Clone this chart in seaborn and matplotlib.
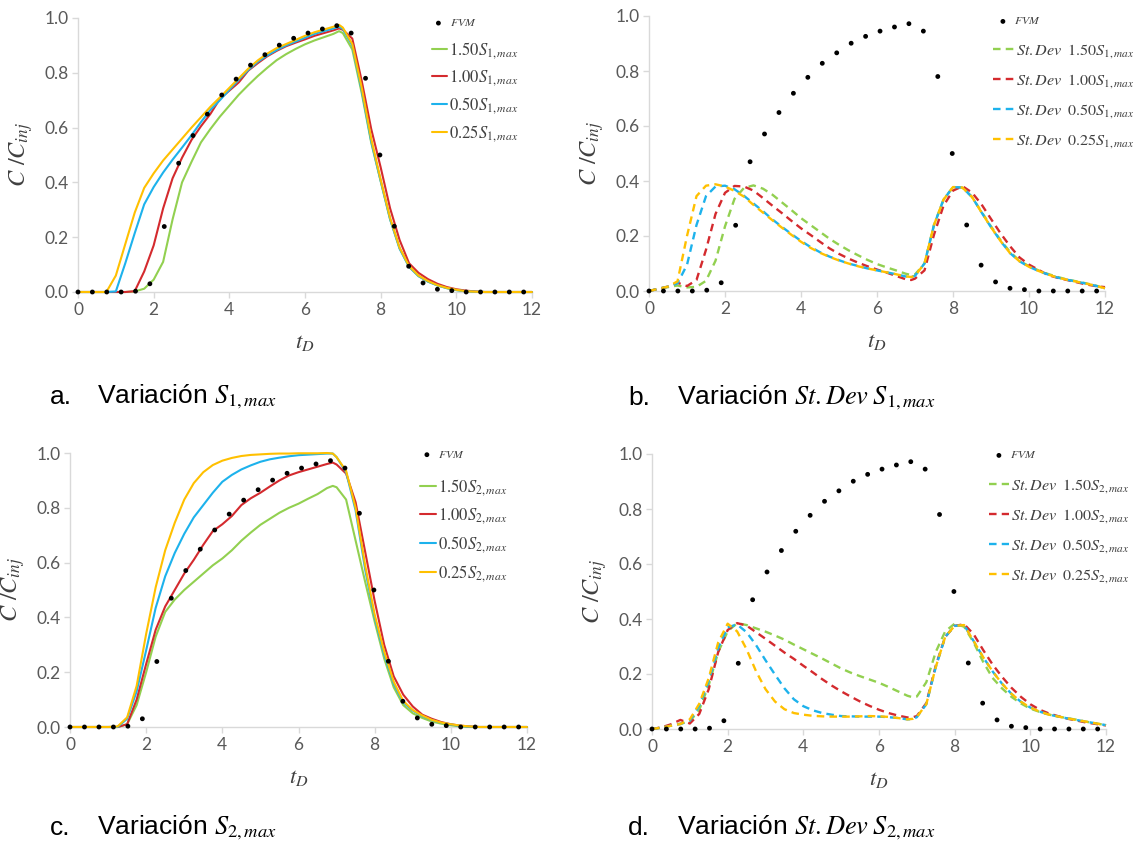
import numpy as np
import pandas as pd
import matplotlib
matplotlib.use("Agg")
import matplotlib.pyplot as plt
import seaborn as sns

# ---------------------------------------------------------------------------
# Data: dimensionless time grid and breakthrough curves C/C_inj
# ---------------------------------------------------------------------------
T = [0.0, 0.25, 0.5, 0.75, 1.0, 1.25, 1.5, 1.75, 2.0, 2.25, 2.5, 2.75, 3.0,
     3.25, 3.5, 3.75, 4.0, 4.25, 4.5, 4.75, 5.0, 5.25, 5.5, 5.75, 6.0, 6.25,
     6.5, 6.75, 6.9, 7.0, 7.25, 7.5, 7.75, 8.0, 8.25, 8.5, 8.75, 9.0, 9.25,
     9.5, 9.75, 10.0, 10.25, 10.5, 10.75, 11.0, 11.25, 11.5, 11.75, 12.0]

FVM_T = [0.0, 0.38, 0.76, 1.14, 1.52, 1.9, 2.28, 2.66, 3.04, 3.42, 3.8, 4.18,
         4.56, 4.94, 5.32, 5.7, 6.08, 6.46, 6.84, 7.22, 7.6, 7.98, 8.36, 8.74,
         9.12, 9.5, 9.88, 10.26, 10.64, 11.02, 11.4, 11.78]
FVM_C = [0.0, 0.0, 0.0, 0.0, 0.003, 0.03, 0.239, 0.47, 0.571, 0.649, 0.719,
         0.777, 0.828, 0.866, 0.901, 0.926, 0.945, 0.96, 0.972, 0.945, 0.78,
         0.5, 0.24, 0.094, 0.033, 0.01, 0.005, 0.0, 0.0, 0.0, 0.0, 0.0]

LEVELS = ["1.50", "1.00", "0.50", "0.25"]

# (a) variation of S1,max
A_150 = [0, 0, 0, 0, 0, 0, 0.002, 0.012, 0.045, 0.11, 0.265, 0.40, 0.475,
         0.546, 0.595, 0.64, 0.68, 0.72, 0.755, 0.788, 0.818, 0.846, 0.868,
         0.887, 0.904, 0.918, 0.93, 0.942, 0.952, 0.945, 0.885, 0.725, 0.545,
         0.405, 0.265, 0.16, 0.092, 0.058, 0.038, 0.024, 0.014, 0.007, 0.003,
         0.001, 0, 0, 0, 0, 0, 0]
A_100 = [0, 0, 0, 0, 0, 0, 0.003, 0.075, 0.17, 0.305, 0.415, 0.49, 0.555,
         0.605, 0.65, 0.705, 0.735, 0.765, 0.808, 0.835, 0.86, 0.88, 0.897,
         0.91, 0.922, 0.935, 0.945, 0.955, 0.962, 0.957, 0.925, 0.77, 0.595,
         0.455, 0.305, 0.19, 0.105, 0.07, 0.047, 0.03, 0.018, 0.01, 0.005,
         0.002, 0, 0, 0, 0, 0, 0]
A_050 = [0, 0, 0, 0, 0.002, 0.105, 0.215, 0.32, 0.383, 0.436, 0.483, 0.527,
         0.572, 0.62, 0.665, 0.70, 0.738, 0.775, 0.81, 0.84, 0.863, 0.883,
         0.90, 0.914, 0.928, 0.942, 0.952, 0.962, 0.968, 0.96, 0.90, 0.735,
         0.55, 0.405, 0.265, 0.158, 0.092, 0.058, 0.038, 0.024, 0.014, 0.007,
         0.003, 0.001, 0, 0, 0, 0, 0, 0]
A_025 = [0, 0, 0, 0, 0.06, 0.175, 0.29, 0.38, 0.433, 0.48, 0.52, 0.56, 0.60,
         0.638, 0.676, 0.71, 0.745, 0.78, 0.815, 0.845, 0.87, 0.89, 0.905,
         0.92, 0.935, 0.948, 0.958, 0.968, 0.975, 0.965, 0.905, 0.745, 0.56,
         0.41, 0.27, 0.162, 0.095, 0.06, 0.04, 0.025, 0.015, 0.008, 0.003,
         0.001, 0, 0, 0, 0, 0, 0]

# (b) variation of the standard deviation of S1,max
B_150 = [0, 0.008, 0.014, 0.02, 0.013, 0.015, 0.037, 0.11, 0.235, 0.335,
         0.375, 0.384, 0.372, 0.35, 0.322, 0.294, 0.265, 0.24, 0.215, 0.19,
         0.168, 0.148, 0.13, 0.113, 0.098, 0.086, 0.075, 0.063, 0.058, 0.06,
         0.10, 0.24, 0.332, 0.378, 0.376, 0.342, 0.288, 0.235, 0.185, 0.142,
         0.11, 0.09, 0.075, 0.062, 0.051, 0.042, 0.035, 0.028, 0.02, 0.01]
B_100 = [0, 0.008, 0.016, 0.03, 0.018, 0.04, 0.15, 0.28, 0.357, 0.382, 0.38,
         0.365, 0.338, 0.31, 0.283, 0.255, 0.228, 0.204, 0.179, 0.155, 0.135,
         0.118, 0.103, 0.09, 0.078, 0.067, 0.055, 0.043, 0.04, 0.045, 0.075,
         0.205, 0.31, 0.365, 0.381, 0.358, 0.315, 0.262, 0.21, 0.163, 0.122,
         0.096, 0.077, 0.058, 0.048, 0.04, 0.032, 0.024, 0.018, 0.014]
B_050 = [0, 0.008, 0.016, 0.028, 0.095, 0.24, 0.345, 0.38, 0.383, 0.37,
         0.346, 0.318, 0.29, 0.26, 0.233, 0.207, 0.182, 0.16, 0.141, 0.125,
         0.112, 0.10, 0.091, 0.082, 0.075, 0.068, 0.061, 0.053, 0.051, 0.055,
         0.10, 0.24, 0.332, 0.378, 0.376, 0.342, 0.286, 0.232, 0.182, 0.138,
         0.108, 0.088, 0.073, 0.06, 0.049, 0.041, 0.034, 0.027, 0.019, 0.01]
B_025 = [0, 0.008, 0.016, 0.035, 0.20, 0.345, 0.383, 0.388, 0.38, 0.364,
         0.343, 0.313, 0.285, 0.257, 0.23, 0.204, 0.179, 0.157, 0.139, 0.124,
         0.111, 0.10, 0.09, 0.082, 0.075, 0.068, 0.061, 0.053, 0.051, 0.055,
         0.10, 0.24, 0.332, 0.378, 0.376, 0.342, 0.286, 0.232, 0.182, 0.138,
         0.108, 0.088, 0.073, 0.06, 0.049, 0.041, 0.034, 0.027, 0.019, 0.01]

# (c) variation of S2,max
C_150 = [0, 0, 0, 0, 0, 0, 0.01, 0.08, 0.20, 0.33, 0.42, 0.465, 0.50, 0.53,
         0.56, 0.59, 0.615, 0.645, 0.68, 0.71, 0.738, 0.76, 0.782, 0.80,
         0.815, 0.833, 0.85, 0.872, 0.88, 0.875, 0.83, 0.68, 0.53, 0.385,
         0.25, 0.145, 0.08, 0.05, 0.033, 0.02, 0.012, 0.006, 0.002, 0, 0, 0,
         0, 0, 0, 0]
C_100 = [0, 0, 0, 0, 0, 0, 0.01, 0.10, 0.23, 0.355, 0.44, 0.50, 0.56, 0.61,
         0.665, 0.715, 0.74, 0.77, 0.81, 0.835, 0.855, 0.878, 0.90, 0.918,
         0.93, 0.94, 0.95, 0.96, 0.965, 0.958, 0.925, 0.82, 0.64, 0.46, 0.30,
         0.185, 0.118, 0.075, 0.045, 0.03, 0.018, 0.01, 0.005, 0.002, 0, 0,
         0, 0, 0, 0]
C_050 = [0, 0, 0, 0, 0, 0, 0.03, 0.13, 0.28, 0.435, 0.55, 0.635, 0.705,
         0.765, 0.81, 0.855, 0.895, 0.92, 0.94, 0.955, 0.968, 0.977, 0.983,
         0.988, 0.992, 0.994, 0.996, 0.998, 0.998, 0.985, 0.93, 0.79, 0.575,
         0.40, 0.265, 0.158, 0.09, 0.06, 0.04, 0.025, 0.015, 0.009, 0.004,
         0.001, 0, 0, 0, 0, 0, 0]
C_025 = [0, 0, 0, 0, 0, 0.002, 0.035, 0.15, 0.34, 0.51, 0.645, 0.745, 0.83,
         0.89, 0.93, 0.956, 0.972, 0.982, 0.989, 0.993, 0.995, 0.997, 0.998,
         0.998, 0.999, 0.999, 0.999, 1.0, 0.998, 0.985, 0.935, 0.80, 0.59,
         0.41, 0.275, 0.165, 0.095, 0.062, 0.042, 0.026, 0.016, 0.01, 0.005,
         0.002, 0, 0, 0, 0, 0, 0]

# (d) variation of the standard deviation of S2,max
D_150 = [0, 0.005, 0.012, 0.02, 0.028, 0.07, 0.16, 0.28, 0.355, 0.385,
         0.378, 0.366, 0.354, 0.34, 0.325, 0.307, 0.29, 0.273, 0.256, 0.238,
         0.22, 0.205, 0.192, 0.18, 0.168, 0.153, 0.137, 0.121, 0.115, 0.118,
         0.17, 0.28, 0.355, 0.383, 0.372, 0.315, 0.245, 0.186, 0.148, 0.117,
         0.093, 0.074, 0.062, 0.052, 0.045, 0.039, 0.033, 0.026, 0.02, 0.014]
D_100 = [0, 0.006, 0.017, 0.033, 0.02, 0.055, 0.145, 0.28, 0.36, 0.385,
         0.376, 0.352, 0.328, 0.303, 0.278, 0.255, 0.23, 0.206, 0.181, 0.158,
         0.137, 0.118, 0.10, 0.084, 0.07, 0.058, 0.049, 0.042, 0.043, 0.047,
         0.094, 0.23, 0.335, 0.375, 0.381, 0.345, 0.288, 0.235, 0.19, 0.15,
         0.117, 0.09, 0.07, 0.056, 0.046, 0.037, 0.03, 0.023, 0.018, 0.013]
D_050 = [0, 0.005, 0.012, 0.018, 0.03, 0.085, 0.175, 0.295, 0.37, 0.38,
         0.352, 0.305, 0.25, 0.198, 0.148, 0.108, 0.083, 0.068, 0.058, 0.052,
         0.047, 0.046, 0.045, 0.045, 0.045, 0.043, 0.04, 0.035, 0.036, 0.043,
         0.09, 0.225, 0.335, 0.375, 0.378, 0.32, 0.262, 0.21, 0.165, 0.128,
         0.099, 0.078, 0.063, 0.052, 0.045, 0.038, 0.032, 0.026, 0.02, 0.014]
D_025 = [0, 0.005, 0.012, 0.018, 0.035, 0.092, 0.185, 0.315, 0.383, 0.355,
         0.29, 0.21, 0.145, 0.10, 0.072, 0.058, 0.052, 0.048, 0.046, 0.045,
         0.045, 0.045, 0.046, 0.047, 0.046, 0.044, 0.04, 0.035, 0.037, 0.044,
         0.09, 0.225, 0.335, 0.375, 0.378, 0.32, 0.262, 0.21, 0.165, 0.128,
         0.099, 0.078, 0.063, 0.052, 0.045, 0.038, 0.032, 0.026, 0.02, 0.014]

X_TICKS = [0, 2, 4, 6, 8, 10, 12]
Y_TICKS = [0.0, 0.2, 0.4, 0.6, 0.8, 1.0]

# ---------------------------------------------------------------------------
# Style
# ---------------------------------------------------------------------------
sns.set_theme(style="white")
plt.rcParams["font.family"] = ["Lato", "DejaVu Sans"]
plt.rcParams["mathtext.fontset"] = "stix"

COLORS = {"1.50": "#92D050", "1.00": "#D42A2E", "0.50": "#1DB2EC", "0.25": "#FFC000"}
AXIS_GRAY = "#D9D9D9"
TICK_TXT = "#595959"

W, H = 1137, 848
fig = plt.figure(figsize=(W / 100, H / 100), dpi=100)
fig.patch.set_facecolor("white")


def px_axes(x0, x1, y_top, y_bot):
    """Axes rectangle given in pixel coordinates of the figure."""
    return fig.add_axes([x0 / W, 1 - y_bot / H, (x1 - x0) / W, (y_bot - y_top) / H])


def fig_pt(x, y):
    return (x / W, 1 - y / H)


PANELS = [
    # key, series, subscript, dashed, axes px box,
    # FVM key (left, centre y), line key (left, top), key font, handle len, row spacing
    ("a", [A_150, A_100, A_050, A_025], "1", False, (78, 532, 18, 292),
     (432.5, 22.7), (432, 40.5), 12, 0.9, 0.42),
    ("b", [B_150, B_100, B_050, B_025], "1", True, (649, 1105, 16, 291),
     (997, 21), (993, 42.5), 11.6, 1.3, 0.74),
    ("c", [C_150, C_100, C_050, C_025], "2", False, (70, 527, 453, 727),
     (421, 454.3), (420, 477), 12, 0.95, 0.48),
    ("d", [D_150, D_100, D_050, D_025], "2", True, (652, 1106, 454, 729),
     (993, 455), (988.5, 477.5), 11.6, 1.3, 0.74),
]

for key, series, idx, dashed, box, fvm_xy, key_xy, kfs, hlen, lspace in PANELS:
    ax = px_axes(*box)
    for lvl, vals in zip(LEVELS, series):
        if dashed:
            lab = rf"$St.Dev\;\;{lvl}S_{{{idx},max}}$"
            ls = (0, (3.2, 2.2))
            lw = 1.7
        else:
            lab = rf"${lvl}S_{{{idx},max}}$"
            ls = "-"
            lw = 1.5
        sns.lineplot(x=T, y=vals, ax=ax, color=COLORS[lvl], lw=lw,
                     linestyle=ls, label=lab, clip_on=False, zorder=3)
    sns.scatterplot(x=FVM_T, y=FVM_C, ax=ax, color="black", s=12,
                    edgecolor="none", label=r"$FVM$", clip_on=False, zorder=5)

    ax.set_xlim(0, 12)
    ax.set_ylim(0, 1)
    ax.set_xticks(X_TICKS)
    ax.set_yticks(Y_TICKS)
    ax.yaxis.set_major_formatter(matplotlib.ticker.StrMethodFormatter("{x:.1f}"))
    for s in ("top", "right"):
        ax.spines[s].set_visible(False)
    for s in ("left", "bottom"):
        ax.spines[s].set_color(AXIS_GRAY)
        ax.spines[s].set_linewidth(1.0)
    ax.tick_params(axis="both", which="major", direction="out", length=4,
                   width=1, color=AXIS_GRAY, labelcolor=TICK_TXT,
                   labelsize=12.5, pad=3, bottom=True, left=True)
    ax.grid(False)

    ax.set_xlabel(r"$t_D$", fontsize=16.5, color="#404040")
    ax.set_ylabel(r"$C\ /C_{inj}$", fontsize=17.5, color="#404040")
    ax.xaxis.set_label_coords(0.5, -0.145)
    ax.yaxis.set_label_coords(-0.095, 0.5)

    handles, labels = ax.get_legend_handles_labels()

    # key entry for the FVM reference points
    fvm_leg = ax.legend([handles[4]], [labels[4]], loc="center left",
                        bbox_to_anchor=fig_pt(*fvm_xy),
                        bbox_transform=fig.transFigure, frameon=False,
                        fontsize=8.5, handlelength=1.0, handletextpad=0.45,
                        borderpad=0, borderaxespad=0, scatterpoints=1)
    fvm_leg.get_texts()[0].set_color("#404040")
    ax.add_artist(fvm_leg)

    # key entries for the four curves
    leg = ax.legend(handles[:4], labels[:4], loc="upper left",
                    bbox_to_anchor=fig_pt(*key_xy),
                    bbox_transform=fig.transFigure, frameon=False,
                    fontsize=kfs, handlelength=hlen, handletextpad=0.1,
                    labelspacing=lspace, borderpad=0, borderaxespad=0)
    for t in leg.get_texts():
        t.set_color("#404040")

# Panel captions
CAPTIONS = [
    ("a.", r"Variación $S_{1,max}$", 50, 97, 397),
    ("b.", r"Variación $St.Dev\;S_{1,max}$", 628, 677, 398),
    ("c.", r"Variación $S_{2,max}$", 50, 97, 828),
    ("d.", r"Variación $St.Dev\;S_{2,max}$", 628, 677, 828),
]
for tag, text, xt, xs, yc in CAPTIONS:
    fig.text(*fig_pt(xt, yc), tag, fontsize=19, family="Liberation Sans",
             va="center", ha="left", color="black")
    fig.text(*fig_pt(xs, yc), text, fontsize=19, family="Liberation Sans",
             va="center", ha="left", color="black")

fig.savefig("out.png", dpi=100, facecolor="white")
